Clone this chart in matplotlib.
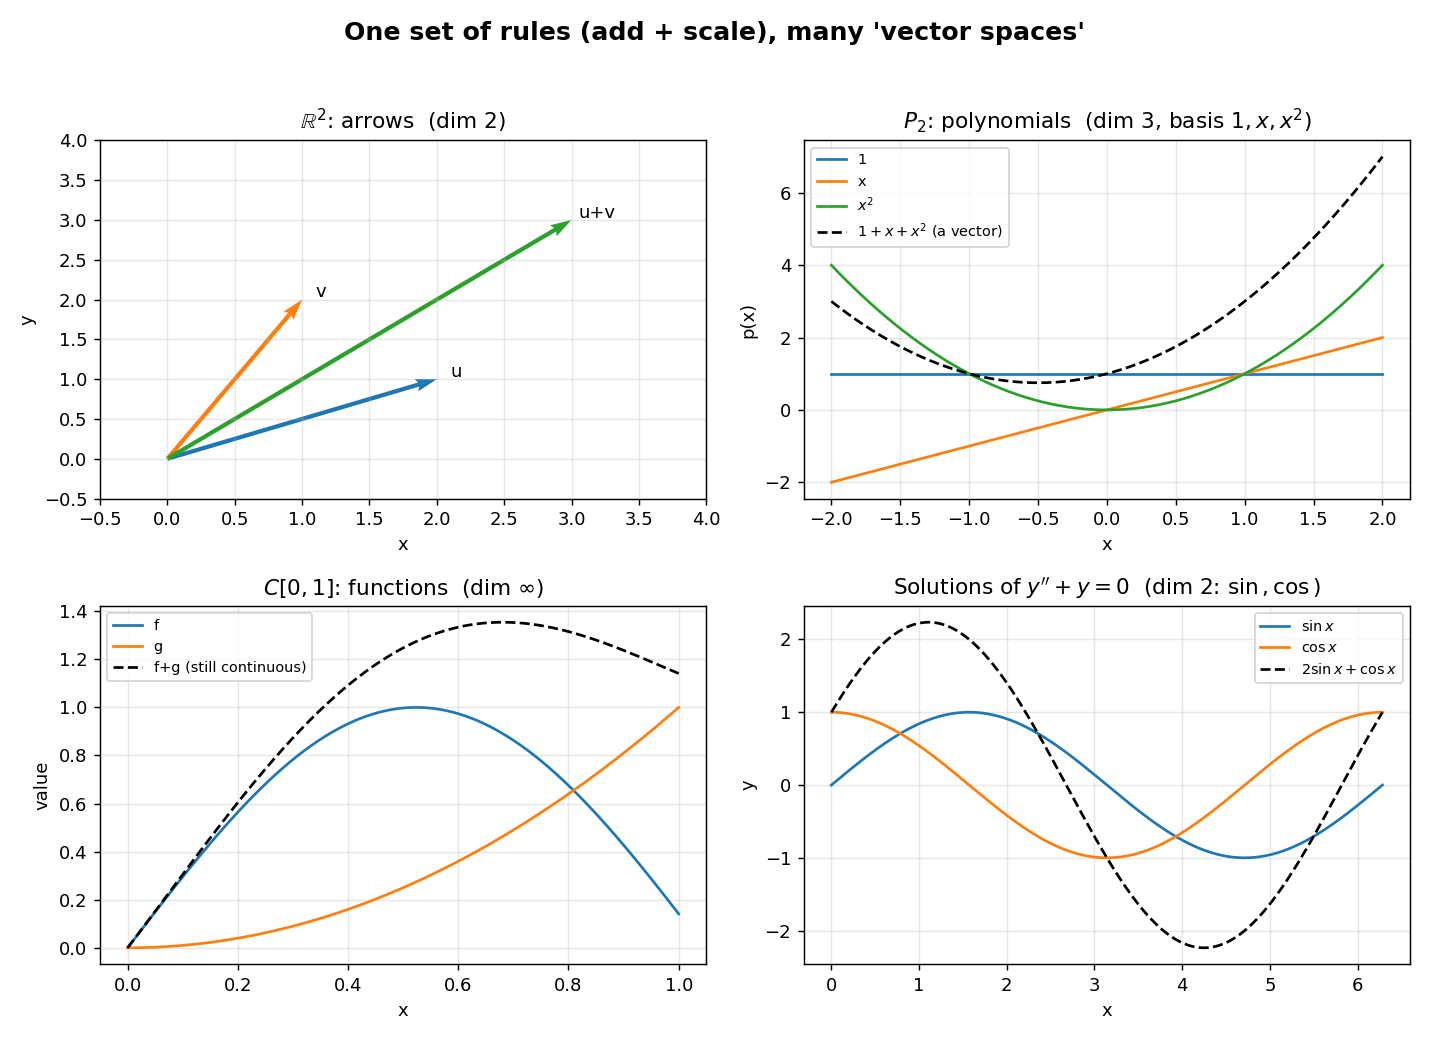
import numpy as np
import matplotlib
matplotlib.use('Agg')
import matplotlib.pyplot as plt

# R^2 vectors
vec_names = ['u', 'v', 'u+v']
vec_x = [2.0, 1.0, 3.0]
vec_y = [1.0, 2.0, 3.0]
vec_colors = ['tab:blue', 'tab:orange', 'tab:green']

# P2: coefficients (c0, c1, c2) of each polynomial
poly_labels = ['1', 'x', '$x^2$', '$1 + x + x^2$ (a vector)']
poly_coefs = [(1, 0, 0), (0, 1, 0), (0, 0, 1), (1, 1, 1)]

# C[0,1]: f = sin(3x), g = x^2
f_freq = 3.0
g_power = 2.0

# ODE y'' + y = 0: combination a*sin + b*cos
comb_a = 2.0
comb_b = 1.0

fig, axes = plt.subplots(2, 2, figsize=(11, 8), dpi=130)
plt.subplots_adjust(left=0.07, right=0.986, top=0.865, bottom=0.073,
                    wspace=0.161, hspace=0.3)
fig.suptitle("One set of rules (add + scale), many 'vector spaces'",
             fontsize=14, fontweight='bold', y=0.98)

# --- R^2 arrows
ax = axes[0, 0]
label_dx = [0.1, 0.1, 0.05]
for name, x, y, c, dx in zip(vec_names, vec_x, vec_y, vec_colors, label_dx):
    ax.quiver(0, 0, x, y, angles='xy', scale_units='xy', scale=1,
              color=c, width=0.007)
    ax.text(x + dx, y - 0.02, name, fontsize=10, va='bottom')
ax.set_xlim(-0.5, 4)
ax.set_ylim(-0.5, 4)
ax.set_title(r'$\mathbb{R}^2$: arrows  (dim 2)', fontsize=12)
ax.set_xlabel('x')
ax.set_ylabel('y')
ax.grid(alpha=0.3)

# --- P2 polynomials
ax = axes[0, 1]
xp = np.linspace(-2, 2, 400)
for lab, (c0, c1, c2) in zip(poly_labels, poly_coefs):
    yp = c0 + c1 * xp + c2 * xp ** 2
    if lab.startswith('$1 +'):
        ax.plot(xp, yp, 'k--', lw=1.5, label=lab)
    else:
        ax.plot(xp, yp, lw=1.5, label=lab)
ax.set_title(r'$P_2$: polynomials  (dim 3, basis $1, x, x^2$)', fontsize=12)
ax.set_xlabel('x')
ax.set_ylabel('p(x)')
ax.legend(loc='upper left', fontsize=8)
ax.grid(alpha=0.3)

# --- C[0,1]
ax = axes[1, 0]
xc = np.linspace(0, 1, 400)
f = np.sin(f_freq * xc)
g = xc ** g_power
ax.plot(xc, f, lw=1.5, label='f')
ax.plot(xc, g, lw=1.5, label='g')
ax.plot(xc, f + g, 'k--', lw=1.5, label='f+g (still continuous)')
ax.set_title(r'$C[0,1]$: functions  (dim $\infty$)', fontsize=12)
ax.set_xlabel('x')
ax.set_ylabel('value')
ax.legend(loc='upper left', fontsize=8)
ax.grid(alpha=0.3)

# --- ODE solutions
ax = axes[1, 1]
xs = np.linspace(0, 2 * np.pi, 400)
ax.plot(xs, np.sin(xs), lw=1.5, label=r'$\sin x$')
ax.plot(xs, np.cos(xs), lw=1.5, label=r'$\cos x$')
ax.plot(xs, comb_a * np.sin(xs) + comb_b * np.cos(xs), 'k--', lw=1.5,
        label=r'$2\sin x + \cos x$')
ax.set_title(r"Solutions of $y'' + y = 0$  (dim 2: $\sin, \cos$)", fontsize=12)
ax.set_xlabel('x')
ax.set_ylabel('y')
ax.legend(loc='upper right', fontsize=8)
ax.grid(alpha=0.3)

plt.savefig('out.png', dpi=130)
